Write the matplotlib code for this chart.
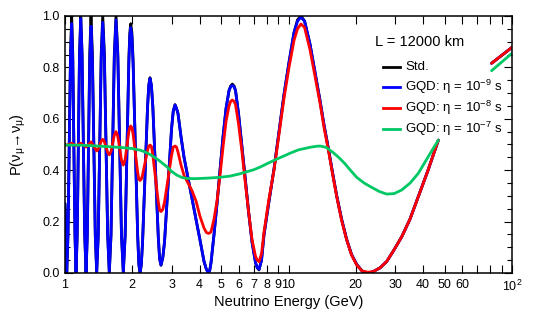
import numpy as np
import matplotlib
matplotlib.use("Agg")
import matplotlib.pyplot as plt
from matplotlib.ticker import FixedLocator, MultipleLocator, NullLocator

plt.rcParams['font.family'] = ['Liberation Sans', 'DejaVu Sans']
plt.rcParams['mathtext.fontset'] = 'custom'
plt.rcParams['mathtext.rm'] = 'Liberation Sans'
plt.rcParams['mathtext.it'] = 'Liberation Sans:italic'

nan = np.nan

# energies (GeV) for the standard and eta=1e-9 curves
e_std = [1.000, 1.018,
         1.031, 1.044, 1.058, 1.071, 1.083, 1.095, 1.108, 1.120,
         1.134, 1.147, 1.161, 1.176, 1.192, 1.208, 1.225, 1.242,
         1.258, 1.274, 1.290, 1.307, 1.326, 1.346, 1.366, 1.386,
         1.408, 1.430, 1.452, 1.475, 1.500, 1.526, 1.552, 1.578,
         1.606, 1.634, 1.662, 1.691, 1.723, 1.756, 1.789, 1.823,
         1.858, 1.894, 1.930, 1.949, 1.968, 1.992, 2.016, 2.064, 2.114, 2.140, 2.166, 2.193,
         2.222, 2.280, 2.340, 2.370, 2.400, 2.435, 2.470, 2.541, 2.614, 2.650, 2.688, 2.738,
         2.787, 2.890, 2.996, 3.050, 3.106, 3.154,
         3.203, 3.304, 3.408, 3.551, 3.701, 3.856, 4.018, 4.187, 4.287, 4.377, 4.441,
         4.500, 4.642, 4.787, 4.938, 5.093, 5.253, 5.418, 5.512, 5.605, 5.703,
         5.793, 5.975, 6.194, 6.389, 6.623, 6.867, 7.118, 7.244, 7.379, 7.572,
         7.770, 8.180, 8.612, 9.068, 9.547, 10.05, 10.58, 10.97, 11.37,
         11.80, 12.48, 13.14, 13.84, 14.42, 15.07, 15.74, 16.43, 17.27, 18.21,
         19.14, 20.19, 21.33, 22.61,
         23.88, 25.67, 27.51, 29.65, 32.1, 34.97, 38.09, 42.10, 46.81,
         nan, 81, 100]
p_std = [0.27, 0.0,
         0.146, 0.5, 0.854, 1.0, 0.854, 0.5, 0.146, 0.0,
         0.146, 0.5, 0.854, 1.0, 0.854, 0.5, 0.146, 0.0,
         0.146, 0.5, 0.854, 1.0, 0.854, 0.5, 0.146, 0.0,
         0.146, 0.5, 0.854, 1.0, 0.854, 0.5, 0.146, 0.0,
         0.146, 0.5, 0.854, 1.0, 0.854, 0.5, 0.146, 0.0,
         0.146, 0.49, 0.83, 0.935, 0.97, 0.935, 0.83, 0.49, 0.146, 0.03, 0.0, 0.03,
         0.115, 0.38, 0.645, 0.73, 0.76, 0.73, 0.65, 0.395, 0.14, 0.055, 0.03, 0.06,
         0.12, 0.34, 0.56, 0.63, 0.655, 0.64,
         0.62, 0.53, 0.45, 0.37, 0.29, 0.21, 0.128, 0.045, 0.015, 0.0, 0.01,
         0.04, 0.15, 0.27, 0.40, 0.53, 0.64, 0.71, 0.728, 0.735, 0.728,
         0.71, 0.62, 0.49, 0.375, 0.24, 0.12, 0.04, 0.02, 0.012, 0.05,
         0.15, 0.28, 0.405, 0.55, 0.695, 0.82, 0.935, 0.985, 1.0,
         0.98, 0.89, 0.78, 0.67, 0.575, 0.485, 0.39, 0.30, 0.21, 0.13,
         0.072, 0.033, 0.008, 0.0,
         0.005, 0.02, 0.045, 0.09, 0.141, 0.21, 0.297, 0.40, 0.517,
         nan, 0.816, 0.878]
p_gqd9 = [0.27, 0.005,
          0.15, 0.49, 0.83, 0.97, 0.83, 0.49, 0.15, 0.005,
          0.15, 0.50, 0.845, 0.99, 0.845, 0.50, 0.15, 0.005,
          0.145, 0.485, 0.82, 0.96, 0.82, 0.485, 0.145, 0.005,
          0.145, 0.49, 0.835, 0.975, 0.835, 0.49, 0.145, 0.005,
          0.15, 0.495, 0.84, 0.985, 0.84, 0.495, 0.15, 0.005,
          0.145, 0.48, 0.815, 0.92, 0.955, 0.92, 0.815, 0.48, 0.145, 0.036, 0.005, 0.03,
          0.115, 0.38, 0.645, 0.73, 0.757, 0.73, 0.65, 0.395, 0.14, 0.055, 0.031, 0.06,
          0.12, 0.34, 0.56, 0.63, 0.654, 0.64,
          0.62, 0.53, 0.45, 0.37, 0.29, 0.21, 0.128, 0.045, 0.015, 0.002, 0.01,
          0.04, 0.15, 0.27, 0.40, 0.53, 0.64, 0.71, 0.725, 0.73, 0.725,
          0.71, 0.62, 0.49, 0.375, 0.24, 0.12, 0.04, 0.022, 0.014, 0.05,
          0.15, 0.28, 0.405, 0.55, 0.695, 0.82, 0.935, 0.98, 0.995,
          0.98, 0.89, 0.78, 0.67, 0.575, 0.485, 0.39, 0.30, 0.21, 0.13,
          0.072, 0.033, 0.008, 0.0,
          0.005, 0.02, 0.045, 0.09, 0.141, 0.21, 0.297, 0.40, 0.517,
          nan, 0.816, 0.878]

e_gqd8 = [1.000, 1.018, 1.044, 1.071, 1.095, 1.120, 1.147, 1.176, 1.208, 1.242,
          1.274, 1.307, 1.346, 1.386,
          1.408, 1.430, 1.452, 1.475, 1.500, 1.526, 1.552, 1.578,
          1.606, 1.634, 1.662, 1.691, 1.723, 1.756, 1.789, 1.823,
          1.858, 1.894, 1.930, 1.949, 1.968, 1.992, 2.016, 2.064, 2.114, 2.140, 2.166, 2.193,
          2.222, 2.280, 2.340, 2.370, 2.400, 2.435, 2.470, 2.541, 2.614, 2.650, 2.688, 2.738,
          2.787, 2.890, 2.996, 3.050, 3.106, 3.154,
          3.203, 3.304, 3.408, 3.551, 3.701, 3.856, 4.018, 4.187, 4.287, 4.377, 4.441,
          4.500, 4.642, 4.787, 4.938, 5.093, 5.253, 5.418, 5.512, 5.605, 5.703,
          5.793, 5.975, 6.194, 6.389, 6.623, 6.867, 7.118, 7.244, 7.379, 7.572,
          7.770, 8.180, 8.612, 9.068, 9.547, 10.05, 10.58, 10.97, 11.37,
          11.80, 12.48, 13.14, 13.84, 14.42, 15.07, 15.74, 16.43, 17.27, 18.21,
          19.14, 20.19, 21.33, 22.61,
          23.88, 25.67, 27.51, 29.65, 32.1, 34.97, 38.09, 42.10, 46.81,
          nan, 81, 100]
p_gqd8 = [0.50, 0.497, 0.501, 0.505, 0.50, 0.495, 0.50, 0.505, 0.498, 0.49,
          0.50, 0.51, 0.493, 0.475,
          0.482, 0.4975, 0.513, 0.52, 0.511, 0.49, 0.469, 0.46,
          0.473, 0.505, 0.537, 0.55, 0.531, 0.485, 0.439, 0.42,
          0.442, 0.496, 0.55, 0.565, 0.572, 0.565, 0.541, 0.466, 0.391, 0.365, 0.36, 0.365,
          0.38, 0.429, 0.478, 0.493, 0.498, 0.493, 0.46, 0.368, 0.277, 0.245, 0.239, 0.247,
          0.276, 0.366, 0.457, 0.49, 0.494, 0.49,
          0.47, 0.42, 0.38, 0.35, 0.32, 0.28, 0.22, 0.175, 0.158, 0.154, 0.156,
          0.16, 0.21, 0.28, 0.38, 0.49, 0.59, 0.65, 0.668, 0.673, 0.668,
          0.655, 0.58, 0.47, 0.36, 0.24, 0.13, 0.065, 0.05, 0.044, 0.075,
          0.16, 0.29, 0.40, 0.54, 0.68, 0.80, 0.905, 0.95, 0.969,
          0.955, 0.868, 0.765, 0.66, 0.565, 0.479, 0.385, 0.297, 0.205, 0.128,
          0.07, 0.031, 0.008, 0.003,
          0.005, 0.02, 0.045, 0.09, 0.141, 0.21, 0.297, 0.40, 0.517,
          nan, 0.816, 0.878]

e_gqd7 = [1.0, 1.2, 1.4, 1.6, 1.855, 2.0, 2.166, 2.28, 2.38, 2.484,
          2.615, 2.73, 2.851, 3.002, 3.162, 3.327, 3.504, 3.8, 4.305, 4.9,
          5.475, 6.0, 6.389, 7.0, 7.456, 8.0, 8.703, 9.4, 10.16, 11.06,
          12.48, 13.3, 13.84, 14.72, 15.87, 16.9, 17.89, 19.0, 20.19, 21.8,
          23.57, 25.5, 27.51, 29.7, 32.1, 35.0, 38.09, 42.0, 46.81,
          nan, 81, 100]
p_gqd7 = [0.498, 0.497, 0.494, 0.491, 0.487, 0.484, 0.478, 0.471, 0.463, 0.453,
          0.44, 0.427, 0.414, 0.395, 0.381, 0.372, 0.368, 0.367, 0.369, 0.372,
          0.377, 0.385, 0.392, 0.402, 0.412, 0.425, 0.44, 0.453, 0.466, 0.479,
          0.489, 0.493, 0.494, 0.489, 0.468, 0.447, 0.425, 0.398, 0.372, 0.35,
          0.333, 0.317, 0.307, 0.309, 0.323, 0.35, 0.388, 0.45, 0.517,
          nan, 0.787, 0.855]

labels = ["Std.", "GQD: η = 10$^{-9}$ s", "GQD: η = 10$^{-8}$ s", "GQD: η = 10$^{-7}$ s"]
colors = ["black", "#0000ff", "#ff0000", "#00c864"]

x_ticks = [1, 2, 3, 4, 5, 6, 7, 8, 9, 10, 20, 30, 40, 50, 60, 70, 80, 90, 100]
x_ticklabels = ["1", "2", "3", "4", "5", "6", "7", "8", "9", "10", "20", "30", "40",
                "50", "60", "", "", "", "10$^2$"]

fig = plt.figure(figsize=(5.4, 3.11), dpi=100)
ax = fig.add_axes([0.1204, 0.1222, 0.8278, 0.8264])

series = [(e_std, p_std), (e_std, p_gqd9), (e_gqd8, p_gqd8), (e_gqd7, p_gqd7)]
for (e, p), c in zip(series, colors):
    ax.plot(e, p, color=c, lw=2.0, solid_joinstyle='round', solid_capstyle='round')

ax.set_xscale('log')
ax.set_xlim(1, 100)
ax.set_ylim(0, 1)
ax.xaxis.set_major_locator(FixedLocator(x_ticks))
ax.xaxis.set_minor_locator(NullLocator())
ax.set_xticklabels(x_ticklabels)
ax.yaxis.set_major_locator(MultipleLocator(0.2))
ax.yaxis.set_minor_locator(MultipleLocator(0.05))
ax.yaxis.set_major_formatter(plt.FormatStrFormatter('%.1f'))
ax.tick_params(which='both', direction='in', top=True, right=True, labelsize=9, width=0.8)
ax.tick_params(which='major', length=6, pad=4)
ax.tick_params(which='minor', length=3.5)
for s in ax.spines.values():
    s.set_linewidth(1.1)

ax.set_xlabel("Neutrino Energy (GeV)", fontsize=10.5, labelpad=1)
ax.set_ylabel("P(ν$_{\\mathrm{μ}}$→ν$_{\\mathrm{μ}}$)", fontsize=10.5, labelpad=10)

# legend drawn by hand
ax.text(0.794, 0.899, "L = 12000 km", transform=ax.transAxes, fontsize=10.5,
        ha='center', va='center')
rows = [0.802, 0.724, 0.642, 0.560]
for lab, c, y in zip(labels, colors, rows):
    ax.plot([0.711, 0.749], [y, y], transform=ax.transAxes, color=c, lw=2.0)
    ax.text(0.761, y, lab, transform=ax.transAxes, fontsize=9.5, ha='left', va='center')

fig.savefig("out.png", dpi=100)
